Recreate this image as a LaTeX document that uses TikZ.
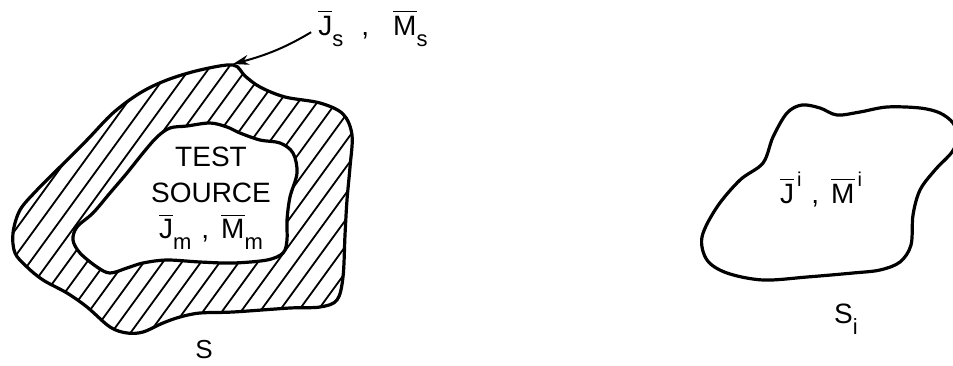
\documentclass[tikz,border=0pt]{standalone}
\usepackage{amsmath}
\usepackage{fontspec}
\setmainfont{Liberation Sans}
\usetikzlibrary{arrows.meta, positioning}
\newcommand{\ovl}[1]{$\overline{\text{#1}}$}
\newcommand{\lowsub}[1]{\raisebox{-5.5pt}{\fontsize{11}{11}\selectfont #1}}
\newcommand{\highsup}[1]{\hspace{1.5pt}\raisebox{8.5pt}{\fontsize{10}{10}\selectfont #1}}

\begin{document}
\begin{tikzpicture}[x=0.5pt, y=-0.5pt,
outline/.style={line width=1.6pt, line join=round},
hatch/.style={line width=0.9pt},
hatched/.style={path picture={
    \foreach \x in {-300,-281,...,420}
        \draw[hatch] (\x,350) -- (\x+211,60);}},
txt/.style={inner sep=0pt, font=\fontsize{14}{18}\selectfont},
pointer/.style={-{Stealth[length=8pt, width=5pt]}, line width=1pt}]

\useasboundingbox (0,0) rectangle (953,365);

\draw[outline, hatched] plot[smooth cycle, tension=0.55] coordinates {
    (233,65) (245,76) (260,87) (285,97) (320,103) (343,114) (352,135)
    (350,167) (347,200) (345,235) (343,277) (337,300) (320,307) (290,308)
    (233,312) (200,313) (180,317) (163,323) (143,332) (127,333) (110,327)
    (87,307) (67,293) (43,280) (27,267) (15,253) (13,233) (20,210) (37,190)
    (57,170) (87,140) (113,113) (140,93) (167,80) (200,70)};
\draw[outline, fill=white] plot[smooth cycle, tension=0.55] coordinates {
    (73,240) (77,227) (93,213) (110,193) (127,173) (143,153) (157,137)
    (170,128) (187,126) (210,123) (227,127) (240,133) (260,140) (280,143)
    (293,153) (297,173) (290,197) (287,220) (287,240) (283,253) (267,260)
    (233,263) (200,262) (167,260) (143,263) (127,268) (110,273) (97,267)
    (80,253)};
\begin{scope}
\clip (0,0) rectangle (953,365);
\draw[outline] plot[smooth cycle, tension=0.55] coordinates {
    (702,237) (717,207) (740,180) (763,163) (773,137) (787,113) (802,105)
    (820,108) (837,115) (860,112) (887,107) (920,108) (940,113) (953,123)
    (958,137) (952,152) (935,170) (920,190) (913,215) (911,245) (900,262)
    (880,270) (853,273) (807,277) (763,280) (727,273) (707,260)};
\end{scope}

\node[txt, align=center, anchor=north] (testsrc) at (211,147)
    {TEST\\SOURCE\\\ovl{J}\lowsub{m}\hspace{5pt},\hspace{6pt}\ovl{M}\lowsub{m}};
\node[txt, anchor=base west] (jsms) at (318,35)
    {\ovl{J}\lowsub{s}\hspace{9pt},\hspace{12pt}\ovl{M}\lowsub{s}};
\node[txt, anchor=base] (jimi) at (821,203)
    {\ovl{J}\highsup{i}\hspace{5pt},\hspace{6pt}\ovl{M}\highsup{i}};
\node[txt, font=\fontsize{13}{15}\selectfont, anchor=base] (s) at (204,358) {S};
\node[txt, anchor=base] (si) at (846,323) {S\lowsub{i}};

\coordinate (peak) at (233,64);
\draw[pointer, shorten <=4pt] (jsms.west) to[bend left=8] (peak);
\end{tikzpicture}
\end{document}
